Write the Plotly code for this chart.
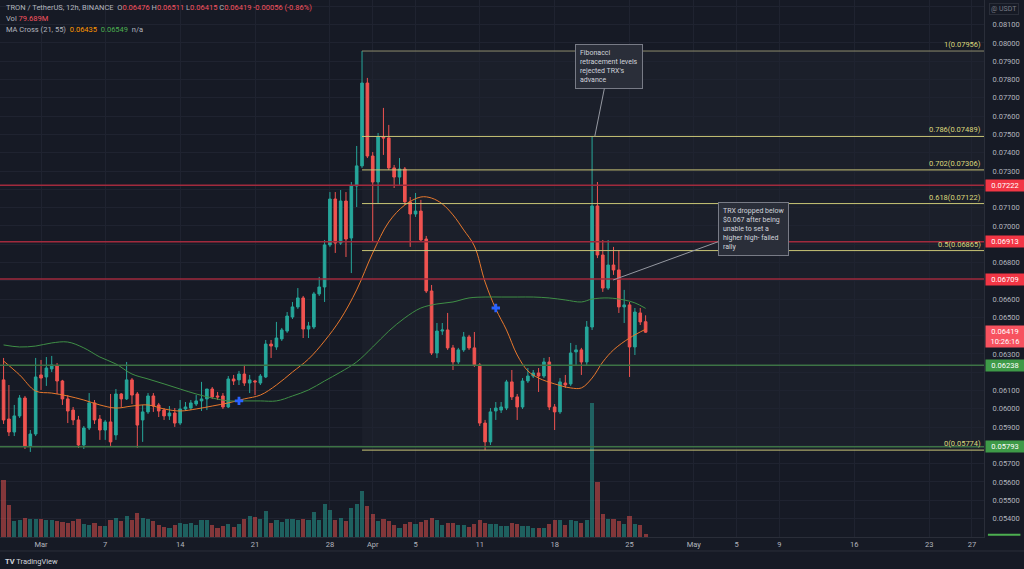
import plotly.graph_objects as go
import pandas as pd

# ---------------- data (TRX/USDT 12h candles) ----------------
start_time = "2022-02-25 12:00"
n_candles = 121

opens = [0.06158, 0.05944, 0.05873, 0.05961, 0.06059, 0.05797, 0.05862, 0.06185, 0.06174, 0.06218,
         0.06234, 0.06152, 0.06054, 0.05993, 0.05939, 0.05802, 0.05895, 0.06032, 0.05944, 0.05884,
         0.05928, 0.05857, 0.06081, 0.06054, 0.06158, 0.06081, 0.05939, 0.05983, 0.06070, 0.06021,
         0.05993, 0.05961, 0.05977, 0.05922, 0.05999, 0.06004, 0.06026, 0.06043, 0.06054, 0.06108,
         0.06070, 0.06070, 0.06010, 0.06163, 0.06158, 0.06190, 0.06141, 0.06152, 0.06141, 0.06174,
         0.06354, 0.06338, 0.06382, 0.06425, 0.06502, 0.06557, 0.06606, 0.06436, 0.06447, 0.06628,
         0.06666, 0.06896, 0.07147, 0.06906, 0.07136, 0.06934, 0.07218, 0.07328, 0.07781, 0.07382,
         0.07240, 0.07486, 0.07481, 0.07317, 0.07267, 0.07311, 0.07131, 0.07065, 0.07081, 0.06928,
         0.06644, 0.06305, 0.06425, 0.06431, 0.06333, 0.06256, 0.06322, 0.06393, 0.06333, 0.06240,
         0.05922, 0.05819, 0.05988, 0.05993, 0.06004, 0.06147, 0.06065, 0.06010, 0.06152, 0.06179,
         0.06196, 0.06179, 0.06256, 0.06010, 0.05983, 0.06141, 0.06136, 0.06311, 0.06322, 0.06256,
         0.06447, 0.07109, 0.06841, 0.06660, 0.06786, 0.06759, 0.06557, 0.06568, 0.06338, 0.06524,
         0.06476]
highs = [0.06278, 0.06130, 0.06021, 0.06075, 0.06070, 0.05884, 0.06278, 0.06267, 0.06283, 0.06289,
         0.06250, 0.06158, 0.06075, 0.06010, 0.05961, 0.05906, 0.06086, 0.06048, 0.05966, 0.05939,
         0.06081, 0.06108, 0.06086, 0.06256, 0.06168, 0.06092, 0.06021, 0.06086, 0.06086, 0.06032,
         0.06004, 0.06015, 0.06004, 0.06048, 0.06037, 0.06048, 0.06075, 0.06147, 0.06108, 0.06119,
         0.06092, 0.06086, 0.06179, 0.06185, 0.06207, 0.06240, 0.06185, 0.06158, 0.06190, 0.06376,
         0.06376, 0.06475, 0.06442, 0.06529, 0.06584, 0.06660, 0.06617, 0.06475, 0.06639, 0.06721,
         0.06923, 0.07185, 0.07185, 0.07196, 0.07185, 0.07240, 0.07437, 0.07956, 0.07809, 0.07404,
         0.07508, 0.07645, 0.07552, 0.07333, 0.07371, 0.07322, 0.07158, 0.07180, 0.07142, 0.06945,
         0.06677, 0.06469, 0.06469, 0.06524, 0.06349, 0.06333, 0.06420, 0.06404, 0.06420, 0.06250,
         0.05939, 0.06004, 0.06037, 0.06037, 0.06158, 0.06212, 0.06081, 0.06168, 0.06223, 0.06212,
         0.06223, 0.06278, 0.06283, 0.06026, 0.06168, 0.06185, 0.06360, 0.06349, 0.06333, 0.06480,
         0.07489, 0.07240, 0.06923, 0.06923, 0.06885, 0.06868, 0.06650, 0.06584, 0.06551, 0.06551,
         0.06511]
lows = [0.05917, 0.05851, 0.05851, 0.05950, 0.05780, 0.05764, 0.05851, 0.06103, 0.06125, 0.06201,
        0.06081, 0.06021, 0.05922, 0.05911, 0.05786, 0.05780, 0.05884, 0.05917, 0.05830, 0.05830,
        0.05797, 0.05830, 0.06010, 0.06048, 0.06026, 0.05786, 0.05819, 0.05972, 0.05983, 0.05955,
        0.05939, 0.05939, 0.05901, 0.05911, 0.05988, 0.05993, 0.06015, 0.05988, 0.05993, 0.06054,
        0.06048, 0.05999, 0.06004, 0.06130, 0.06130, 0.06125, 0.06086, 0.06075, 0.06130, 0.06168,
        0.06278, 0.06322, 0.06371, 0.06415, 0.06491, 0.06546, 0.06387, 0.06387, 0.06436, 0.06617,
        0.06584, 0.06885, 0.06852, 0.06896, 0.06830, 0.06742, 0.07103, 0.07317, 0.07371, 0.06912,
        0.07125, 0.07388, 0.07306, 0.07207, 0.07224, 0.07114, 0.06885, 0.07049, 0.06912, 0.06633,
        0.06294, 0.06278, 0.06404, 0.06322, 0.06212, 0.06245, 0.06311, 0.06322, 0.06229, 0.05906,
        0.05774, 0.05802, 0.05939, 0.05977, 0.05993, 0.06048, 0.05939, 0.05999, 0.06141, 0.06168,
        0.06092, 0.06168, 0.05993, 0.05884, 0.05972, 0.06114, 0.06125, 0.06240, 0.06185, 0.06240,
        0.06431, 0.06824, 0.06639, 0.06650, 0.06732, 0.06524, 0.06469, 0.06174, 0.06294, 0.06458,
        0.06415]
closes = [0.05939, 0.05873, 0.05961, 0.06059, 0.05797, 0.05862, 0.06174, 0.06168, 0.06223, 0.06240,
          0.06152, 0.06054, 0.05988, 0.05939, 0.05802, 0.05895, 0.06032, 0.05939, 0.05884, 0.05928,
          0.05819, 0.06081, 0.06054, 0.06158, 0.06075, 0.05911, 0.05983, 0.06070, 0.06015, 0.05988,
          0.05961, 0.05977, 0.05922, 0.05999, 0.06010, 0.06032, 0.06043, 0.06054, 0.06108, 0.06065,
          0.06065, 0.06010, 0.06163, 0.06152, 0.06190, 0.06141, 0.06158, 0.06147, 0.06179, 0.06354,
          0.06343, 0.06387, 0.06431, 0.06507, 0.06557, 0.06606, 0.06436, 0.06453, 0.06628, 0.06666,
          0.06896, 0.07147, 0.06906, 0.07136, 0.06928, 0.07218, 0.07328, 0.07781, 0.07382, 0.07240,
          0.07486, 0.07481, 0.07317, 0.07267, 0.07311, 0.07131, 0.07065, 0.07081, 0.06923, 0.06644,
          0.06305, 0.06425, 0.06431, 0.06333, 0.06256, 0.06322, 0.06393, 0.06333, 0.06240, 0.05922,
          0.05819, 0.05983, 0.06004, 0.06010, 0.06147, 0.06065, 0.06010, 0.06152, 0.06179, 0.06196,
          0.06179, 0.06256, 0.06010, 0.05983, 0.06147, 0.06130, 0.06305, 0.06322, 0.06256, 0.06447,
          0.07109, 0.06841, 0.06660, 0.06786, 0.06759, 0.06557, 0.06568, 0.06338, 0.06529, 0.06475,
          0.06419]
volumes_m = [1510, 848, 424, 450, 504, 477, 477, 477, 450, 450,
             424, 398, 371, 424, 477, 345, 318, 371, 292, 292,
             450, 504, 424, 557, 450, 636, 504, 477, 424, 318,
             265, 239, 318, 371, 345, 371, 318, 450, 450, 318,
             239, 292, 345, 265, 345, 477, 557, 530, 477, 689,
             371, 450, 398, 477, 477, 450, 477, 450, 663, 450,
             875, 716, 450, 504, 424, 769, 875, 1219, 822, 610,
             424, 477, 424, 318, 239, 345, 398, 345, 398, 450,
             504, 450, 318, 371, 371, 318, 318, 265, 345, 450,
             371, 345, 345, 292, 292, 371, 345, 292, 292, 239,
             239, 239, 345, 450, 450, 318, 450, 424, 371, 450,
             3551, 1458, 610, 477, 477, 424, 345, 557, 345, 318,
             79.689]

# MA Cross (21, 55) lines at selected candles
ma21_idx = [0, 3, 6, 9, 12, 15, 18, 21, 24, 27, 30, 33, 36, 39, 42, 45, 48, 51, 54, 57, 60, 63, 66,
            69, 72, 75, 78, 80, 82, 84, 86, 88, 90, 92, 94, 96, 98, 100, 103, 106, 108, 110, 112,
            114, 117, 120]
ma21_val = [0.06261, 0.06185, 0.06097, 0.06086, 0.06070, 0.06048, 0.06021, 0.06004, 0.06015, 0.06021,
            0.05999, 0.05988, 0.05999, 0.06015, 0.06032, 0.06054, 0.06075, 0.06130, 0.06201, 0.06272,
            0.06371, 0.06491, 0.06650, 0.06852, 0.07021, 0.07114, 0.07158, 0.07152, 0.07120, 0.07060,
            0.06978, 0.06890, 0.06693, 0.06546, 0.06431, 0.06294, 0.06207, 0.06168, 0.06136, 0.06114,
            0.06114, 0.06168, 0.06256, 0.06322, 0.06387, 0.06435]
ma55_idx = [0, 3, 6, 9, 12, 15, 18, 21, 24, 27, 30, 33, 36, 39, 42, 45, 48, 51, 54, 57, 60, 63, 66,
            69, 72, 75, 78, 81, 84, 87, 90, 93, 96, 99, 102, 105, 108, 110, 113, 116, 118, 120]
ma55_val = [0.06349, 0.06338, 0.06343, 0.06360, 0.06365, 0.06333, 0.06283, 0.06245, 0.06190, 0.06163,
            0.06136, 0.06108, 0.06081, 0.06059, 0.06043, 0.06043, 0.06043, 0.06043, 0.06070, 0.06103,
            0.06152, 0.06201, 0.06256, 0.06338, 0.06425, 0.06497, 0.06551, 0.06573, 0.06584, 0.06606,
            0.06611, 0.06611, 0.06611, 0.06611, 0.06606, 0.06595, 0.06584, 0.06600, 0.06606, 0.06595,
            0.06579, 0.06549]
cross_idx = [44, 92]
cross_val = [0.06043, 0.06551]

# horizontal levels
red_levels = [0.07222, 0.06913, 0.06709]
green_levels = [0.06238, 0.05793]
fib_ratios = ["1", "0.786", "0.702", "0.618", "0.5", "0"]
fib_values = [0.07956, 0.07489, 0.07306, 0.07122, 0.06865, 0.05774]
fib_start_idx = 67

# price axis ticks (labels hidden where the reference covers them with price boxes)
price_ticks = [0.053, 0.054, 0.055, 0.056, 0.057, 0.058, 0.059, 0.060, 0.061, 0.062, 0.063, 0.064,
               0.065, 0.066, 0.067, 0.068, 0.069, 0.070, 0.071, 0.072, 0.073, 0.074, 0.075, 0.076,
               0.077, 0.078, 0.079, 0.080, 0.081, 0.082]
hidden_ticks = [0.053, 0.058, 0.062, 0.064, 0.067, 0.069, 0.072, 0.082]

tick_dates = ["2022-03-01", "2022-03-07", "2022-03-14", "2022-03-21", "2022-03-28", "2022-04-01",
              "2022-04-05", "2022-04-11", "2022-04-18", "2022-04-25", "2022-05-01", "2022-05-05",
              "2022-05-09", "2022-05-16", "2022-05-23", "2022-05-27"]
tick_text = ["Mar", "7", "14", "21", "28", "Apr", "5", "11", "18", "25", "May", "5", "9", "16", "23", "27"]

last_price = 0.06419
countdown = "10:26:16"

# ---------------- figure ----------------
BG = "#161a25"
GRID = "#1f2330"
TXT = "#b2b5be"
UP = "#26a69a"
DOWN = "#ef5350"
FONT = "Roboto"

times = pd.date_range(start_time, periods=n_candles, freq="12h")
x_end = pd.Timestamp("2022-05-28 03:00")
x_start = pd.Timestamp("2022-02-25 04:00")

fig = go.Figure()

vol_colors = ["rgba(38,166,154,0.5)" if c >= o else "rgba(239,83,80,0.5)" for o, c in zip(opens, closes)]
fig.add_trace(go.Bar(x=times, y=volumes_m, marker_color=vol_colors, marker_line_width=0,
                     width=0.78 * 12 * 3600 * 1000, yaxis="y2", hoverinfo="skip", showlegend=False))

fig.add_trace(go.Candlestick(
    x=times, open=opens, high=highs, low=lows, close=closes,
    increasing=dict(line=dict(color=UP, width=1), fillcolor=UP),
    decreasing=dict(line=dict(color=DOWN, width=1), fillcolor=DOWN),
    whiskerwidth=0, showlegend=False))

fig.add_trace(go.Scatter(x=times[ma21_idx], y=ma21_val, mode="lines",
                         line=dict(color="#e8782c", width=1, shape="spline"), showlegend=False))
fig.add_trace(go.Scatter(x=times[ma55_idx], y=ma55_val, mode="lines",
                         line=dict(color="#3f8f46", width=1, shape="spline"), showlegend=False))
fig.add_trace(go.Scatter(x=times[cross_idx], y=cross_val, mode="markers",
                         marker=dict(symbol="cross", size=7, color="#2962ff"), showlegend=False))

shapes = []
# fib zone background
shapes.append(dict(type="rect", xref="x", yref="y", x0=times[fib_start_idx], x1=x_end,
                   y0=min(fib_values), y1=max(fib_values), fillcolor="rgba(255,255,255,0.025)",
                   line=dict(width=0), layer="below"))
for lv in red_levels:
    shapes.append(dict(type="line", xref="paper", yref="y", x0=0, x1=1, y0=lv, y1=lv,
                       line=dict(color="#a12a3d", width=1.5)))
for lv in green_levels:
    shapes.append(dict(type="line", xref="paper", yref="y", x0=0, x1=1, y0=lv, y1=lv,
                       line=dict(color="#3d7345", width=1.5)))
for r, lv in zip(fib_ratios, fib_values):
    col = "#8d8b6c" if r == "1" else "#c9c576"
    shapes.append(dict(type="line", xref="x", yref="y", x0=times[fib_start_idx], x1=x_end, y0=lv, y1=lv,
                       line=dict(color=col, width=1)))
# bottom strip separator and volume-axis marker
shapes.append(dict(type="line", xref="paper", yref="paper", x0=0, x1=1.045, y0=-0.026, y1=-0.026,
                   line=dict(color="#2a2e39", width=1)))
shapes.append(dict(type="line", xref="paper", yref="paper", x0=1.004, x1=1.037, y0=0.004, y1=0.004,
                   line=dict(color="#4caf50", width=2)))

ann = []
for r, lv in zip(fib_ratios, fib_values):
    ann.append(dict(xref="paper", yref="y", x=0.999, y=lv, xanchor="right", yanchor="bottom",
                    text=f"{r}({lv:.5f})", showarrow=False, font=dict(family=FONT, size=7.5, color="#dcd77c")))

def price_box(val, color, text=None, yanchor="middle", yshift=0):
    return dict(xref="paper", yref="y", x=1, y=val, xanchor="left", yanchor=yanchor, xshift=1, yshift=yshift,
                text=text or f"{val:.5f}", showarrow=False, bgcolor=color, borderpad=1, width=36,
                font=dict(family=FONT, size=7.5, color="#ffffff"))

for lv in red_levels:
    ann.append(price_box(lv, "#f23645"))
for lv in green_levels:
    ann.append(price_box(lv, "#3e9a48"))
ann.append(price_box(last_price, "#f7525f", f"{last_price:.5f}<br>{countdown}", yanchor="top", yshift=7))

ann.append(dict(xref="paper", yref="paper", x=1, y=1, xanchor="left", yanchor="top", xshift=5, yshift=-3,
                text="@ USDT", showarrow=False, font=dict(family=FONT, size=7, color="#787b86"),
                bordercolor="#2a2e39", borderwidth=1, borderpad=1))

RED = "#f7525f"
chg = closes[-1] - closes[-2]
hdr1 = (f"<span style='color:{TXT}'>TRON / TetherUS, 12h, BINANCE&nbsp;&nbsp;O</span>"
        f"<span style='color:{RED}'>{opens[-1]:.5f}</span>"
        f"<span style='color:{TXT}'>&nbsp;H</span><span style='color:{RED}'>{highs[-1]:.5f}</span>"
        f"<span style='color:{TXT}'>&nbsp;L</span><span style='color:{RED}'>{lows[-1]:.5f}</span>"
        f"<span style='color:{TXT}'>&nbsp;C</span><span style='color:{RED}'>{closes[-1]:.5f}"
        f"&nbsp;{chg:+.5f} ({chg / closes[-2] * 100:+.2f}%)</span>")
hdr2 = f"<span style='color:{TXT}'>Vol</span>&nbsp;<span style='color:{RED}'>{volumes_m[-1]:.3f}M</span>"
hdr3 = (f"<span style='color:{TXT}'>MA Cross (21, 55)</span>&nbsp;&nbsp;<span style='color:#ff9800'>{ma21_val[-1]:.5f}</span>"
        f"&nbsp;&nbsp;<span style='color:#4caf50'>{ma55_val[-1]:.5f}</span>&nbsp;&nbsp;<span style='color:{TXT}'>n/a</span>")
for i, h in enumerate([hdr1, hdr2, hdr3]):
    ann.append(dict(xref="paper", yref="paper", x=0, y=1, xanchor="left", yanchor="middle",
                    xshift=4, yshift=-7 - 11 * i, text=h, showarrow=False, font=dict(family=FONT, size=7.5)))

callout_font = dict(family=FONT, size=7, color="#d1d4dc")
ann.append(dict(xref="x", yref="y", x=pd.Timestamp("2022-04-21 18:00"), y=0.07489,
                text="Fibonacci<br>retracement levels<br>rejected TRX's<br>advance", align="left",
                showarrow=True, arrowhead=0, arrowwidth=1, arrowcolor="#9598a1", ax=14, ay=-70,
                bgcolor="#2a2e39", bordercolor="#787b86", borderwidth=1, borderpad=4, font=callout_font))
ann.append(dict(xref="x", yref="y", x=pd.Timestamp("2022-04-23 11:00"), y=0.06704,
                text="TRX dropped below<br>$0.067 after being<br>unable to set a<br>higher high- failed<br>rally",
                align="left", showarrow=True, arrowhead=0, arrowwidth=1, arrowcolor="#9598a1", ax=140, ay=-51,
                bgcolor="#2a2e39", bordercolor="#787b86", borderwidth=1, borderpad=4, font=callout_font))

ann.append(dict(xref="paper", yref="paper", x=0, y=-0.0447, xanchor="left", yanchor="middle", xshift=3,
                text="<b>TV</b> TradingView", showarrow=False, font=dict(family=FONT, size=7.5, color="#d1d4dc")))

price_text = ["" if any(abs(t - h) < 1e-9 for h in hidden_ticks) else f"{t:.5f}" for t in price_ticks]

fig.update_layout(
    width=1024, height=569,
    margin=dict(l=0, r=40, t=0, b=32),
    paper_bgcolor=BG, plot_bgcolor=BG,
    font=dict(family=FONT, size=8, color=TXT),
    showlegend=False, hovermode=False, bargap=0,
    shapes=shapes, annotations=ann,
    xaxis=dict(type="date", range=[x_start, x_end], tickvals=tick_dates, ticktext=tick_text,
               showgrid=True, gridcolor=GRID, gridwidth=1, zeroline=False, showline=True,
               linecolor="#2a2e39", ticks="", tickfont=dict(family=FONT, size=7.5, color=TXT),
               rangeslider=dict(visible=False), fixedrange=True),
    yaxis=dict(side="right", range=[0.05299, 0.08235], tickvals=price_ticks, ticktext=price_text,
               showgrid=True, gridcolor=GRID, gridwidth=1, zeroline=False, showline=True,
               linecolor="#2a2e39", ticks="", ticklabelstandoff=6,
               tickfont=dict(family=FONT, size=7.5, color=TXT), fixedrange=True),
    yaxis2=dict(overlaying="y", range=[0, 14230], visible=False, fixedrange=True),
)

fig.write_html("out.html", config={"displayModeBar": False},
               post_script="document.body.style.margin='0';document.body.style.overflow='hidden';")
